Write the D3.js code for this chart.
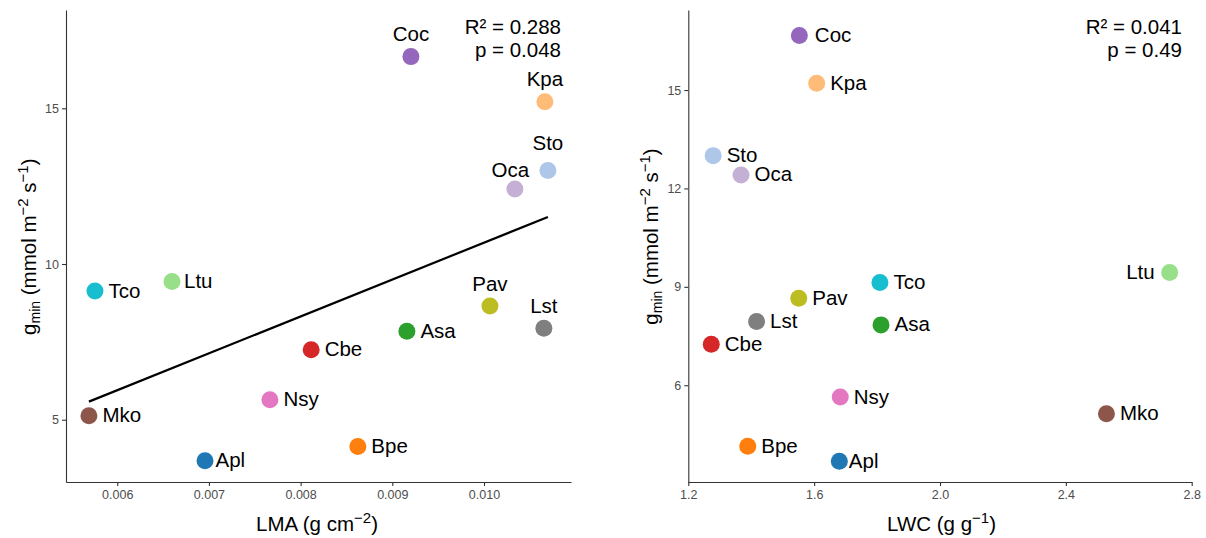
<!DOCTYPE html>
<html>
<head>
<meta charset="utf-8">
<script src="https://cdn.jsdelivr.net/npm/d3@7/dist/d3.min.js"></script>
<style>
  html, body { margin: 0; padding: 0; background: #fff; }
  svg { display: block; font-family: "Liberation Sans", Arial, sans-serif; }
</style>
</head>
<body>
<svg id="chart" width="1206" height="538"></svg>
<script>
// ---------------- data ----------------
const species = ["Coc", "Kpa", "Sto", "Oca", "Ltu", "Tco", "Pav", "Lst", "Asa", "Cbe", "Nsy", "Mko", "Bpe", "Apl"];
const gmin    = [16.66, 15.21, 13.00, 12.41, 9.44, 9.13, 8.65, 7.94, 7.84, 7.25, 5.64, 5.13, 4.14, 3.68];
const lma     = [0.009203, 0.010664, 0.010697, 0.010337, 0.006597, 0.005757, 0.010065, 0.010653, 0.009159, 0.008115, 0.007665, 0.005691, 0.008624, 0.006957];
const lwc     = [1.553, 1.608, 1.279, 1.3675, 2.730, 1.809, 1.551, 1.417, 1.8125, 1.273, 1.683, 2.529, 1.389, 1.680];
const colors  = ["#9467bd", "#ffbb78", "#aec7e8", "#c5b0d5", "#98df8a", "#17becf", "#bcbd22", "#7f7f7f", "#2ca02c", "#d62728", "#e377c2", "#8c564b", "#ff7f0e", "#1f77b4"];
const lmaTicks = [0.006, 0.007, 0.008, 0.009, 0.010];
const lwcTicks = [1.2, 1.6, 2.0, 2.4, 2.8];
const gminTicksLeft  = [5, 10, 15];
const gminTicksRight = [6, 9, 12, 15];
const statsLeft  = ["R\u00B2 = 0.288", "p = 0.048"];
const statsRight = ["R\u00B2 = 0.041", "p = 0.49"];

// label placement (layout, not data)
const placeLeft  = {Coc:"top", Kpa:"top", Sto:"top", Oca:"top", Pav:"top", Lst:"top"};
const placeRight = {Ltu:"left"};
const nudgeLeft  = {Sto:[0,-5], Oca:[-4.5,3.5], Apl:[-3,0], Ltu:[-1.5,0]};
const nudgeRight = {Apl:[-4,0], Coc:[2,0]};

const svg = d3.select("#chart");
const FONT = 20.5;

function panel(opts) {
  const g = svg.append("g");
  const x = d3.scaleLinear().domain(opts.xDomain).range(opts.xRange);
  const y = d3.scaleLinear().domain(opts.yDomain).range(opts.yRange);

  // regression line
  if (opts.fit) {
    const n = opts.xs.length;
    const mx = d3.mean(opts.xs), my = d3.mean(gmin);
    let sxy = 0, sxx = 0;
    for (let i = 0; i < n; i++) { sxy += (opts.xs[i]-mx)*(gmin[i]-my); sxx += (opts.xs[i]-mx)**2; }
    const b = sxy/sxx, a = my - b*mx;
    const ext = d3.extent(opts.xs);
    g.append("line")
      .attr("x1", x(ext[0])).attr("y1", y(a + b*ext[0]))
      .attr("x2", x(ext[1])).attr("y2", y(a + b*ext[1]))
      .attr("stroke", "#000").attr("stroke-width", 2.2);
  }

  // axes
  const xAxis = d3.axisBottom(x).tickValues(opts.xTicks).tickFormat(opts.xFmt).tickSize(4).tickSizeOuter(0).tickPadding(4);
  const yAxis = d3.axisLeft(y).tickValues(opts.yTicks).tickFormat(d3.format("d")).tickSize(4).tickSizeOuter(0).tickPadding(3);
  const gx = g.append("g").attr("transform", `translate(0,${opts.yRange[0]})`).call(xAxis);
  const gy = g.append("g").attr("transform", `translate(${opts.xRange[0]},0)`).call(yAxis);
  [gx, gy].forEach(ax => {
    ax.select(".domain").attr("stroke", "#333").attr("stroke-width", 1.1);
    ax.selectAll(".tick line").attr("stroke", "#333").attr("stroke-width", 1.1);
    ax.selectAll(".tick text").attr("fill", "#4d4d4d").style("font-size", "12.5px")
      .style("font-family", '"Liberation Sans", Arial, sans-serif');
  });

  // points
  species.forEach((s, i) => {
    g.append("circle")
      .attr("cx", x(opts.xs[i])).attr("cy", y(gmin[i])).attr("r", 8.5)
      .attr("fill", colors[i]);
  });

  // labels
  species.forEach((s, i) => {
    const cx = x(opts.xs[i]), cy = y(gmin[i]);
    const pl = opts.place[s] || "right";
    const nd = opts.nudge[s] || [0, 0];
    let tx, ty, anchor;
    if (pl === "top")       { tx = cx; ty = cy - 15.5; anchor = "middle"; }
    else if (pl === "left") { tx = cx - 15; ty = cy + 6.5; anchor = "end"; }
    else                    { tx = cx + 13.5; ty = cy + 6.5; anchor = "start"; }
    g.append("text").attr("x", tx + nd[0]).attr("y", ty + nd[1])
      .attr("text-anchor", anchor).attr("fill", "#000")
      .style("font-size", FONT + "px").text(s);
  });

  // stats
  opts.stats.forEach((t, k) => {
    g.append("text").attr("x", opts.statsX).attr("y", 33.5 + k*23)
      .attr("text-anchor", "end").style("font-size", "20.5px").text(t);
  });

  // y title
  const yt = g.append("text")
    .attr("transform", `translate(${opts.yTitleX},${opts.yTitleY}) rotate(-90)`)
    .attr("text-anchor", "middle").style("font-size", FONT + "px");
  yt.append("tspan").text("g");
  yt.append("tspan").attr("dy", 4).style("font-size", "14px").text("min");
  yt.append("tspan").attr("dy", -4).text(" (mmol m");
  yt.append("tspan").attr("dy", -8).style("font-size", "15px").text("\u22122");
  yt.append("tspan").attr("dy", 8).text(" s");
  yt.append("tspan").attr("dy", -8).style("font-size", "15px").text("\u22121");
  yt.append("tspan").attr("dy", 8).text(")");

  // x title
  const xt = g.append("text").attr("x", opts.xTitleX).attr("y", 531)
    .attr("text-anchor", "middle").style("font-size", FONT + "px");
  opts.xTitle(xt);
}

panel({
  xs: lma, xDomain: [0.005441, 0.010949], xRange: [66, 571],
  yDomain: [3.0, 18.157], yRange: [482, 10],
  xTicks: lmaTicks, xFmt: d3.format(".3f"), yTicks: gminTicksLeft,
  fit: true, place: placeLeft, nudge: nudgeLeft,
  stats: statsLeft, statsX: 561,
  yTitleX: 36, yTitleY: 246.7, xTitleX: 317,
  xTitle: t => {
    t.append("tspan").text("LMA (g cm");
    t.append("tspan").attr("dy", -8).style("font-size", "15px").text("\u22122");
    t.append("tspan").attr("dy", 8).text(")");
  }
});

panel({
  xs: lwc, xDomain: [1.2, 2.8], xRange: [688.3, 1191.7],
  yDomain: [3.05, 17.44], yRange: [482, 10],
  xTicks: lwcTicks, xFmt: d3.format(".1f"), yTicks: gminTicksRight,
  fit: false, place: placeRight, nudge: nudgeRight,
  stats: statsRight, statsX: 1182,
  yTitleX: 658, yTitleY: 236.5, xTitleX: 941.5,
  xTitle: t => {
    t.append("tspan").text("LWC (g g");
    t.append("tspan").attr("dy", -8).style("font-size", "15px").text("\u22121");
    t.append("tspan").attr("dy", 8).text(")");
  }
});
</script>
</body>
</html>
